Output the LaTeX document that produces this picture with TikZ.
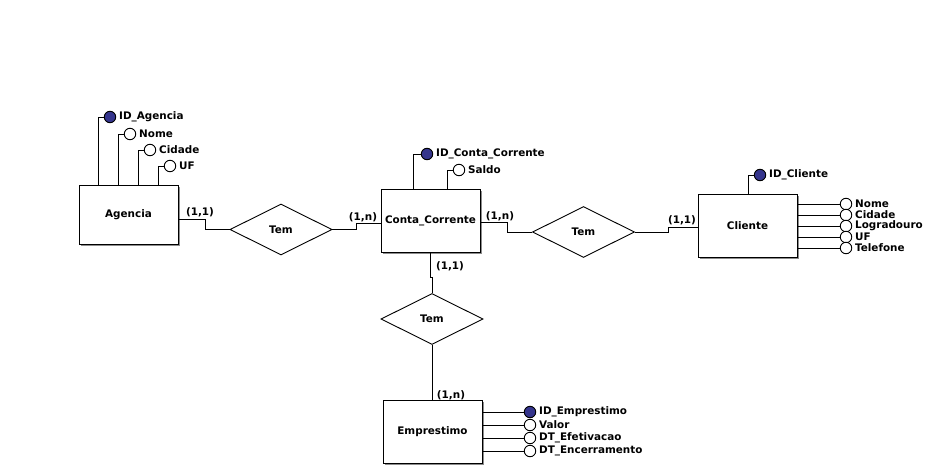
\documentclass[tikz,border=0pt]{standalone}
\usepackage{fontspec}
\setmainfont{DejaVu Sans}
\usetikzlibrary{shapes,shapes.geometric,shadows,calc}
\definecolor{keyblue}{RGB}{52,52,140}
\tikzset{
  erfont/.style = {font=\fontsize{10.4}{12}\selectfont\bfseries},
  entity/.style = {erfont, rectangle, draw=black, fill=white, minimum width=99pt, minimum height=63pt, inner sep=0pt,
    drop shadow={shadow xshift=2pt, shadow yshift=-2pt, fill=black!45, opacity=1}},
  rel/.style = {erfont, diamond, aspect=2, draw=black, fill=white, minimum width=102pt, minimum height=51pt, inner sep=0pt},
  attr/.style = {circle, draw=black, fill=white, minimum size=11.5pt, inner sep=0pt, label distance=2pt},
  keyattr/.style = {attr, fill=keyblue},
  attrtxt/.style = {erfont, inner sep=0pt, xshift=2.5pt},
  card/.style = {erfont, inner sep=0pt}
}

\begin{document}
\begin{tikzpicture}[x=1pt, y=-1pt, line width=0.9pt]
	\useasboundingbox (0,0) rectangle (932,471);
	% entidades
	\node [entity, minimum height=59pt] (agencia) at (128.5,214.5) {Agencia};
	\node [entity] (conta) at (430.5,220.5) {Conta\_Corrente};
	\node [entity] (cliente) at (747.5,225.5) {Cliente};
	\node [entity] (emprestimo) at (432.5,431.5) {Emprestimo};
	% relacionamentos
	\node [rel] (tem_ag) at (281,229.5) {Tem};
	\node [rel] (tem_cl) at (583.5,232) {Tem};
	\node [rel] (tem_em) at (432,319) {Tem};

	\draw ([yshift=-4.5pt]agencia.east) -- ++(27,0) |- (tem_ag.west);
	\draw (tem_ag.east) -- ++(24,0) |- ([yshift=-2.5pt]conta.west);
	\draw ([yshift=-1.5pt]conta.east) -- ++(27,0) |- (tem_cl.west);
	\draw (tem_cl.east) -- ++(33,0) |- ([yshift=-1.5pt]cliente.west);
	\draw (conta.south) -- ++(0,25) -| (tem_em.north);
	\draw (tem_em.south) -- ++(0,30) -| (emprestimo.north);

	\node [card] (c_ag) at (200,212) {(1,1)};
	\node [card] (c_cc1) at (363,217) {(1,n)};
	\node [card] (c_cc2) at (500,216) {(1,n)};
	\node [card] (c_cl) at (682,220) {(1,1)};
	\node [card] (c_cc3) at (450,266) {(1,1)};
	\node [card] (c_em) at (451,395) {(1,n)};

	% atributos Agencia
	\node [keyattr, label={[attrtxt]right:ID\_Agencia}] (id_ag) at (110,117) {};
	\node [attr, label={[attrtxt]right:Nome}] (nome_ag) at (130,134) {};
	\node [attr, label={[attrtxt]right:Cidade}] (cidade_ag) at (150,150) {};
	\node [attr, label={[attrtxt]right:UF}] (uf_ag) at (170,166) {};
	\draw (id_ag.west) -| ([xshift=20pt]agencia.north west);
	\draw (nome_ag.west) -| ([xshift=40pt]agencia.north west);
	\draw (cidade_ag.west) -| ([xshift=60pt]agencia.north west);
	\draw (uf_ag.west) -| ([xshift=80pt]agencia.north west);

	% atributos Conta_Corrente
	\node [keyattr, label={[attrtxt]right:ID\_Conta\_Corrente}] (id_cc) at (427,154) {};
	\node [attr, label={[attrtxt]right:Saldo}] (saldo_cc) at (459,170) {};
	\draw (id_cc.west) -| ([xshift=33pt]conta.north west);
	\draw (saldo_cc.west) -| ([xshift=67pt]conta.north west);

	% atributos Cliente
	\node [keyattr, label={[attrtxt]right:ID\_Cliente}] (id_cl) at (760,175) {};
	\draw (id_cl.west) -| ([xshift=51pt]cliente.north west);
	\node [attr, label={[attrtxt]right:Nome}] (nome_cl) at (846,204) {};
	\node [attr, label={[attrtxt]right:Cidade}] (cidade_cl) at (846,215) {};
	\node [attr, label={[attrtxt]right:Logradouro}] (logr_cl) at (846,226) {};
	\node [attr, label={[attrtxt]right:UF}] (uf_cl) at (846,237) {};
	\node [attr, label={[attrtxt]right:Telefone}] (tel_cl) at (846,248) {};
	\foreach \a in {nome_cl,cidade_cl,logr_cl,uf_cl,tel_cl}
		\draw (\a.west) -- (\a.west -| cliente.east);

	% atributos Emprestimo
	\node [keyattr, label={[attrtxt]right:ID\_Emprestimo}] (id_em) at (530,412) {};
	\node [attr, label={[attrtxt]right:Valor}] (valor_em) at (530,425) {};
	\node [attr, label={[attrtxt]right:DT\_Efetivacao}] (dtef_em) at (530,438) {};
	\node [attr, label={[attrtxt]right:DT\_Encerramento}] (dten_em) at (530,451) {};
	\foreach \a in {id_em,valor_em,dtef_em,dten_em}
		\draw (\a.west) -- (\a.west -| emprestimo.east);
\end{tikzpicture}
\end{document}
